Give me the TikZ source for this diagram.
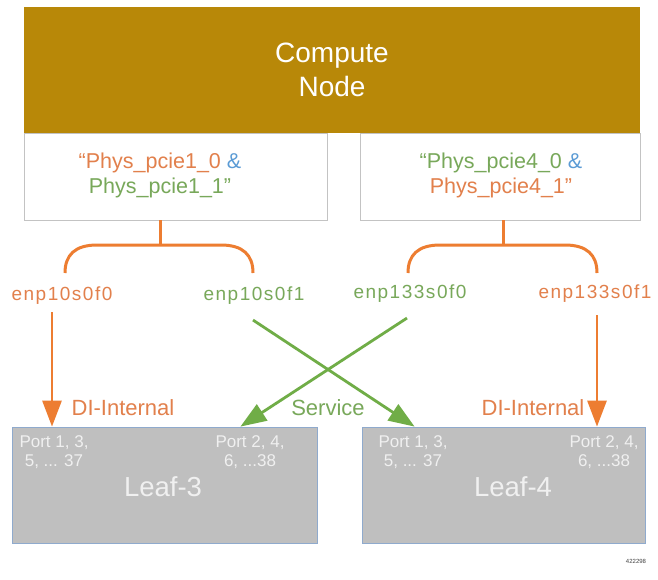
\documentclass[tikz,border=0pt]{standalone}
\usepackage{fontspec}
\setmainfont{Liberation Sans}
\usetikzlibrary{arrows.meta}
\definecolor{gold}{RGB}{184,136,8}
\definecolor{orng}{RGB}{237,125,49}
\definecolor{otxt}{RGB}{226,128,76}
\definecolor{grn}{RGB}{112,173,71}
\definecolor{gtxt}{RGB}{120,168,90}
\definecolor{btxt}{RGB}{91,155,213}
\definecolor{leaffill}{RGB}{191,191,191}
\definecolor{leafdraw}{RGB}{143,170,205}
\definecolor{boxdraw}{RGB}{195,195,195}
\tikzset{
  lbl/.style={inner sep=1pt, font=\fontsize{19}{23}\selectfont\addfontfeatures{LetterSpace=8}},
  linklbl/.style={inner sep=1pt, font=\fontsize{22}{26}\selectfont},
  bracket/.style={draw=orng, line width=3pt},
  oarrow/.style={draw=orng, line width=2.8pt, -{Triangle[length=26pt,width=19pt]}},
  garrow/.style={draw=grn, line width=2.8pt, -{Triangle[length=26pt,width=19pt]}},
  leafbox/.style={draw=leafdraw, line width=0.8pt, fill=leaffill, minimum height=116pt, inner sep=0pt},
  porttxt/.style={text=white!94!black, align=center, font=\fontsize{17}{19.5}\selectfont},
  leaftxt/.style={text=white!94!black, font=\fontsize{27.5}{32}\selectfont},
  physbox/.style={draw=boxdraw, line width=0.8pt, fill=white, minimum height=87pt, inner sep=0pt},
  phystxt/.style={align=center, font=\fontsize{21.5}{25}\selectfont},
}
\begin{document}
\begin{tikzpicture}[x=1pt,y=-1pt]
\useasboundingbox (0,0) rectangle (658,579);
\fill[white] (0,0) rectangle (658,579);
% compute node
\node[fill=gold, minimum width=616pt, minimum height=126pt, inner sep=0pt, text=white, align=center,
  font=\fontsize{28}{34}\selectfont] (compute) at (332,70) {Compute\\Node};
% phys boxes
\node[physbox, minimum width=303pt] (pl) at (175.5,176.5) {};
\node[physbox, minimum width=280pt] (pr) at (500,176.5) {};
\node[phystxt] (plt) at (160,175) {\textcolor{otxt}{“Phys\_pcie1\_0} \textcolor{btxt}{\&}\\\textcolor{gtxt}{Phys\_pcie1\_1”}};
\node[phystxt] (prt) at (501,175) {\textcolor{gtxt}{“Phys\_pcie4\_0} \textcolor{btxt}{\&}\\\textcolor{otxt}{Phys\_pcie4\_1”}};
% interface labels
\node[lbl, text=otxt] (e1) at (62,296) {enp10s0f0};
\node[lbl, text=gtxt] (e2) at (254,296) {enp10s0f1};
\node[lbl, text=gtxt] (e3) at (410,294) {enp133s0f0};
\node[lbl, text=otxt] (e4) at (595,294) {enp133s0f1};
% brackets
\coordinate (bl) at (160,245);
\coordinate (br) at (503,245);
\draw[bracket] (pl.south -| bl) -- (bl);
\draw[bracket] (65,273) .. controls (65,255) and (75,245) .. (97,245) -- (221,245) .. controls (243,245) and (253,255) .. (253,273);
\draw[bracket] (pr.south -| br) -- (br);
\draw[bracket] (408,273) .. controls (408,255) and (418,245) .. (440,245) -- (565,245) .. controls (587,245) and (597,255) .. (597,273);
% leaf boxes
\node[leafbox, minimum width=305pt] (leaf3) at (164.5,485) {};
\node[leafbox, minimum width=283pt] (leaf4) at (503.5,485) {};
\node[porttxt] (p31) at (54,452) {Port 1, 3,\\5, ... 37};
\node[porttxt] (p32) at (250,452) {Port 2, 4,\\6, ...38};
\node[leaftxt] (l3) at (163,487) {Leaf-3};
\node[porttxt] (p41) at (413,452) {Port 1, 3,\\5, ... 37};
\node[porttxt] (p42) at (604,452) {Port 2, 4,\\6, ...38};
\node[leaftxt] (l4) at (513,487) {Leaf-4};
% arrows
\coordinate (a1) at (52,312);
\coordinate (a4) at (597,315);
\draw[oarrow] (a1) -- (a1 |- leaf3.north);
\draw[oarrow] (a4) -- (a4 |- leaf4.north);
\draw[garrow] ([xshift=-1pt,yshift=-14pt]e2.south) -- ([xshift=53pt]leaf4.north west);
\draw[garrow] ([xshift=-3pt,yshift=-14pt]e3.south) -- ([xshift=-77pt]leaf3.north east);
% link labels
\node[linklbl, text=otxt] (di3) at (123,408) {DI-Internal};
\node[linklbl, text=gtxt] (svc) at (328,408) {Service};
\node[linklbl, text=otxt] (di4) at (533,408) {DI-Internal};
\node[font=\fontsize{6}{7}\selectfont, text=black!75] (num) at (636,561) {422298};
\end{tikzpicture}
\end{document}
